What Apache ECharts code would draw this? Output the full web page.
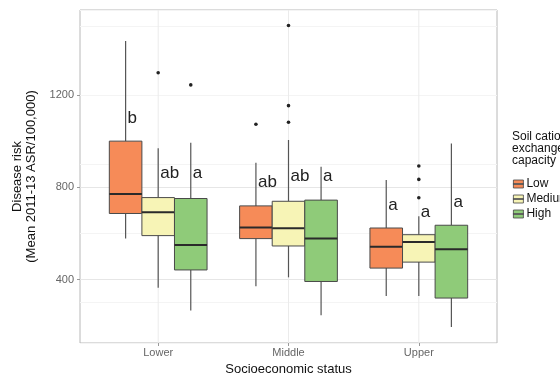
<!DOCTYPE html>
<html>
<head>
<meta charset="utf-8">
<script src="https://cdn.jsdelivr.net/npm/echarts@6/dist/echarts.min.js"></script>
<style>
  html, body { margin: 0; padding: 0; background: #fff; }
  #chart { width: 560px; height: 374px; }
</style>
</head>
<body>
<div id="chart"></div>
<script>
// categories on the x axis and the three soil levels (dodged boxes)
const categories = ['Lower', 'Middle', 'Upper'];
const levels = ['Low', 'Medium', 'High'];
const levelColors = ['#f68b58', '#f7f4b6', '#8fcb79'];

// [min, Q1, median, Q3, max] for each category
const lowBoxes = [[578, 687, 772, 1001, 1436], [371, 578, 626, 720, 907], [329, 450, 543, 624, 832]];
const mediumBoxes = [[365, 591, 692, 756, 970], [410, 546, 623, 740, 1006], [329, 476, 563, 595, 675]];
const highBoxes = [[266, 442, 550, 752, 994], [245, 392, 578, 745, 890], [194, 320, 532, 636, 991]];

// outlying points per category
const lowOutliers = [[], [1074], []];
const mediumOutliers = [[1298], [1503, 1155, 1083], [893, 835, 755]];
const highOutliers = [[1245], [], []];

// significance letters and the value they sit at
const lowLetters = ['b', 'ab', 'a'];
const mediumLetters = ['ab', 'ab', 'a'];
const highLetters = ['a', 'a', 'a'];
const lowLetterY = [1100, 823, 723];
const mediumLetterY = [862, 849, 693];
const highLetterY = [862, 849, 736];

const yTicks = [400, 800, 1200];
const yMinorTicks = [200, 600, 1000, 1400];
const yMin = 125;
const yMax = 1570;

const chart = echarts.init(document.getElementById('chart'));

// draws one box (whiskers, box, median, outliers, letter)
function boxRenderer (levelIdx, outliers, letters, letterY) {
  return function (params, api) {
    const c = api.value(0);
    const w = api.size([0.25, 0])[0];
    const x = api.coord([c, 0])[0] + (levelIdx - 1) * w;
    const y = v => api.coord([c, v])[1];
    const yLo = y(api.value(1));
    const yQ1 = y(api.value(2));
    const yMed = y(api.value(3));
    const yQ3 = y(api.value(4));
    const yHi = y(api.value(5));
    const children = [
      { type: 'line', shape: { x1: x, y1: yHi, x2: x, y2: yQ3 }, style: { stroke: '#555', lineWidth: 1.2 } },
      { type: 'line', shape: { x1: x, y1: yQ1, x2: x, y2: yLo }, style: { stroke: '#555', lineWidth: 1.2 } },
      { type: 'rect', shape: { x: x - w / 2, y: yQ3, width: w, height: yQ1 - yQ3 },
        style: { fill: levelColors[levelIdx], stroke: '#4a4a4a', lineWidth: 1 } },
      { type: 'line', shape: { x1: x - w / 2, y1: yMed, x2: x + w / 2, y2: yMed }, style: { stroke: '#2a2a2a', lineWidth: 2 } }
    ];
    for (const v of outliers[c]) {
      children.push({ type: 'circle', shape: { cx: x, cy: y(v), r: 1.8 }, style: { fill: '#222' } });
    }
    children.push({
      type: 'text',
      x: x + 2,
      y: y(letterY[c]),
      style: { text: letters[c], fill: '#222', font: '17px "Liberation Sans", Arial, sans-serif', verticalAlign: 'middle', align: 'left' }
    });
    return { type: 'group', children: children };
  };
}

const boxSets = [lowBoxes, mediumBoxes, highBoxes];
const outlierSets = [lowOutliers, mediumOutliers, highOutliers];
const letterSets = [lowLetters, mediumLetters, highLetters];
const letterYSets = [lowLetterY, mediumLetterY, highLetterY];

// vertical grid lines at each category, drawn under the boxes
const series = [{
  name: 'vgrid',
  type: 'custom',
  z: 1,
  silent: true,
  renderItem: function (params, api) {
    const top = api.coord([api.value(0), yMax]);
    const bottom = api.coord([api.value(0), yMin]);
    return { type: 'line', shape: { x1: top[0], y1: top[1], x2: bottom[0], y2: bottom[1] },
      style: { stroke: '#ebebeb', lineWidth: 1 } };
  },
  data: categories.map((_, c) => [c])
}];

levels.forEach((name, i) => series.push({
  name: name,
  type: 'custom',
  z: 3,
  renderItem: boxRenderer(i, outlierSets[i], letterSets[i], letterYSets[i]),
  itemStyle: { color: levelColors[i] },
  encode: { x: 0, y: [1, 2, 3, 4, 5] },
  data: boxSets[i].map((b, c) => [c].concat(b))
}));

const option = {
  animation: false,
  textStyle: { fontFamily: '"Liberation Sans", Arial, sans-serif' },
  title: {
    text: 'Soil cation\nexchange\ncapacity',
    left: 512,
    top: 131,
    padding: 0,
    textStyle: { fontSize: 12, fontWeight: 'normal', color: '#111', lineHeight: 12 }
  },
  legend: {
    data: levels,
    orient: 'vertical',
    left: 513,
    top: 178,
    padding: 0,
    itemWidth: 10,
    itemHeight: 8,
    itemGap: 3,
    icon: 'path://M0,0 H10 V8 H0 Z M0,3.5 V4.5 H10 V3.5 Z',
    itemStyle: { borderColor: '#444', borderWidth: 0.8 },
    textStyle: { fontSize: 12, color: '#111', padding: [0, 0, 0, -2] }
  },
  grid: {
    left: 80,
    right: 63,
    top: 10,
    bottom: 31,
    outerBoundsMode: 'none',
    show: true,
    borderColor: '#b8b8b8',
    borderWidth: 1
  },
  xAxis: {
    type: 'value',
    min: -0.6,
    max: 2.6,
    name: 'Socioeconomic status',
    nameLocation: 'middle',
    nameGap: 17,
    nameTextStyle: { fontSize: 13, color: '#111' },
    axisLine: { show: false, onZero: false },
    axisTick: { show: true, customValues: [0, 1, 2], length: 3, lineStyle: { color: '#999' } },
    axisLabel: {
      customValues: [0, 1, 2],
      formatter: v => categories[Math.round(v)],
      fontSize: 11,
      color: '#666',
      margin: 4
    },
    splitLine: { show: false }
  },
  yAxis: [{
    type: 'value',
    min: yMin,
    max: yMax,
    name: 'Disease risk\n(Mean 2011-13 ASR/100,000)',
    nameLocation: 'middle',
    nameRotate: 90,
    nameGap: 37,
    nameTextStyle: { fontSize: 13, color: '#111', lineHeight: 14 },
    axisLine: { show: false, onZero: false },
    axisTick: { show: true, customValues: yTicks, length: 3, lineStyle: { color: '#999' } },
    axisLabel: { customValues: yTicks, formatter: v => String(v), fontSize: 11, color: '#666', margin: 6 },
    splitLine: { show: true, customValues: yTicks, lineStyle: { color: '#e6e6e6' } }
  }, {
    type: 'value',
    min: yMin,
    max: yMax,
    position: 'left',
    axisLine: { show: false, onZero: false },
    axisTick: { show: false },
    axisLabel: { show: false },
    splitLine: { show: true, customValues: yMinorTicks, lineStyle: { color: '#f4f4f4' } }
  }],
  series: series
};

chart.setOption(option);
</script>
</body>
</html>
